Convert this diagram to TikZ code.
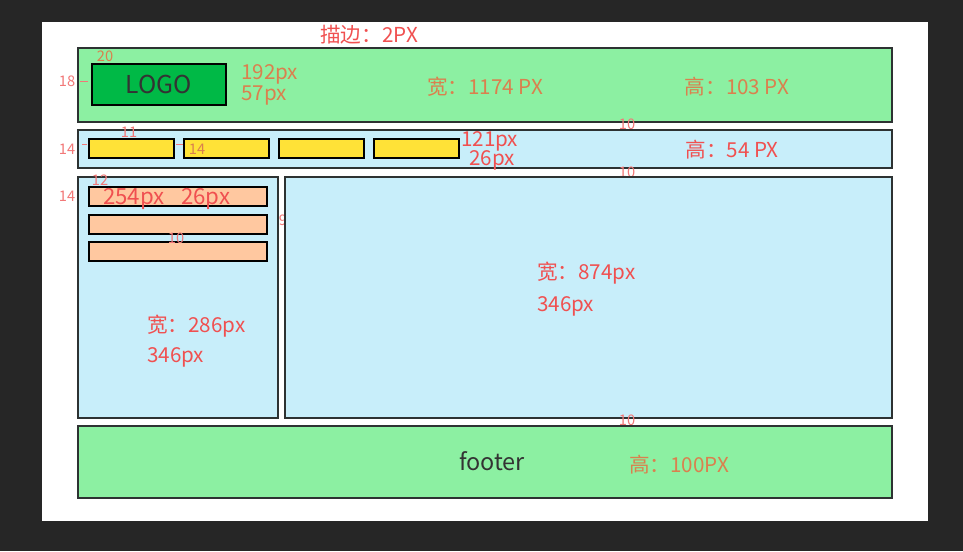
\documentclass[tikz,border=0pt]{standalone}
\usepackage{fontspec}
\setmainfont{Noto Sans CJK SC}
\definecolor{screen}{RGB}{38,38,38}
\definecolor{boxline}{RGB}{45,50,50}
\definecolor{headgreen}{RGB}{140,240,162}
\definecolor{logogreen}{RGB}{0,185,70}
\definecolor{navblue}{RGB}{200,238,250}
\definecolor{navyellow}{RGB}{255,226,55}
\definecolor{sideorange}{RGB}{255,200,160}
\definecolor{notebrown}{RGB}{218,128,78}
\definecolor{notered}{RGB}{240,80,80}
\definecolor{notepink}{RGB}{242,120,120}
\tikzset{
  box/.style={draw=boxline, line width=1.1pt},
  bignote/.style={inner sep=0pt, font=\fontsize{17.6}{18}\selectfont},
  hugenote/.style={inner sep=0pt, font=\fontsize{19}{19}\selectfont},
  tinynote/.style={inner sep=0pt, text=notepink, font=\fontsize{12.5}{13}\selectfont},
}
\begin{document}
\begin{tikzpicture}[x=0.03cm,y=-0.03cm]
                % Drawing screen and page
                \fill [screen] (0,0) rectangle (963,551);%
                \fill [white] (42,22) rectangle (928,521);%
                \node [bignote, text=notered] (stroke) at (369,35) {描边：2PX};%

                % Drawing header
                \draw [box, fill=headgreen] (78,48) rectangle (892,122);%
                \draw [box, fill=logogreen, draw=black] (92,64) rectangle (226,105);%
                \node [hugenote, font=\fontsize{21}{21}\selectfont, text=black!80] (logo) at (159,84) {LOGO};%
                \node [tinynote, text=notebrown] (logotop) at (105,56) {20};%
                \node [tinynote] (logoleft) at (67,81) {18};%
                \draw [notepink] (80,81) -- (88,81);%
                \node [bignote, text=notebrown, anchor=west] (logow) at (241,74) {192px};%
                \node [bignote, text=notebrown, anchor=west] (logoh) at (241,96) {57px};%
                \node [bignote, text=notebrown] (headw) at (485,87) {宽：1174 PX};%
                \node [bignote, text=notebrown] (headh) at (737,87) {高：103 PX};%
                \node [tinynote] (gapa) at (627,124) {10};%

                % Drawing nav
                \draw [box, fill=navblue] (78,130) rectangle (892,168);%
                \foreach \x [count=\i] in {89,184,279,374}
                  \draw [box, fill=navyellow, draw=black] (\x,139) rectangle (\x+85,158);%
                \node [tinynote] (navtop) at (129,132) {11};%
                \node [tinynote] (navleft) at (67,149) {14};%
                \draw [notepink] (82,144) -- (87,144);%
                \draw [notepink] (176,144) -- (183,144);%
                \node [tinynote, text=notebrown] (navgap) at (197,149) {14};%
                \node [bignote, text=notered, anchor=west] (navw) at (461,141) {121px};%
                \node [bignote, text=notered, anchor=west] (navh) at (469,160) {26px};%
                \node [bignote, text=notered] (navhh) at (732,150) {高：54 PX};%
                \node [tinynote] (gapb) at (627,172) {10};%

                % Drawing sidebar
                \draw [box, fill=navblue] (78,177) rectangle (278,418);%
                \foreach \y in {187,215,242}
                  \draw [box, fill=sideorange, draw=black] (89,\y) rectangle (267,\y+19);%
                \node [tinynote] (sidetop) at (100,180) {12};%
                \node [tinynote] (sideleft) at (67,196) {14};%
                \node [hugenote, text=notered, anchor=west] (itemw) at (103,199) {254px};%
                \node [hugenote, text=notered, anchor=west] (itemh) at (181,199) {26px};%
                \node [tinynote] (itemgap) at (176,238) {10};%
                \node [tinynote] (colgap) at (283,220) {9};%
                \node [bignote, text=notered, anchor=west] (sidew) at (147,326) {宽：286px};%
                \node [bignote, text=notered, anchor=west] (sideh) at (147,357) {346px};%

                % Drawing content
                \draw [box, fill=navblue] (285,177) rectangle (892,418);%
                \node [bignote, text=notered, anchor=west] (mainw) at (537,273) {宽：874px};%
                \node [bignote, text=notered, anchor=west] (mainh) at (537,306) {346px};%
                \node [tinynote] (gapc) at (627,420) {10};%

                % Drawing footer
                \draw [box, fill=headgreen] (78,426) rectangle (892,498);%
                \node [hugenote, font=\fontsize{20}{20}\selectfont, text=black!80] (foot) at (492,461) {footer};%
                \node [bignote, text=notebrown, anchor=west] (footh) at (629,465) {高：100PX};%
\end{tikzpicture}
\end{document}
